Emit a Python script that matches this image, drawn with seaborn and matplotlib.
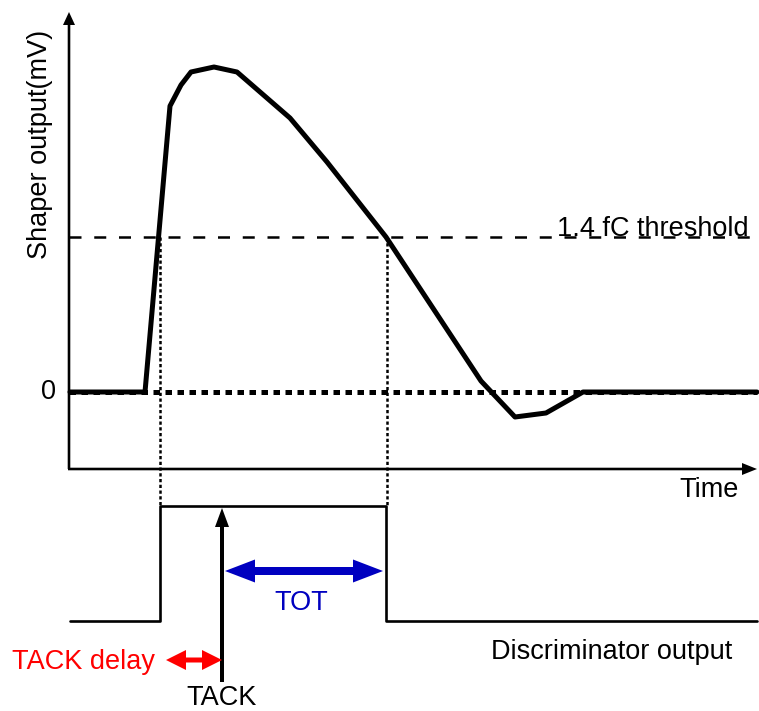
import matplotlib
matplotlib.use("Agg")
import matplotlib.pyplot as plt
import seaborn as sns

# Shaper pulse: time (arbitrary units) and output level (zero = baseline)
pulse_t = [70, 145, 170, 181, 191, 214, 237, 290, 327, 386, 481, 515, 546, 583, 757]
pulse_v = [0, 0, 286, 307, 320, 325, 320, 274, 230, 155, 11, -25, -21, 0, 0]

threshold_level = 155          # 1.4 fC threshold
t_cross_up = 160               # leading-edge threshold crossing
t_cross_down = 387             # trailing-edge threshold crossing
t_tack = 222                   # TACK arrival
t_start, t_end = 69, 757

# Discriminator output trace
disc_low, disc_high = -229, -114
disc_t = [70, t_cross_up, t_cross_up, t_cross_down - 1, t_cross_down - 1, t_end]
disc_v = [disc_low, disc_low, disc_high, disc_high, disc_low, disc_low]

axis_level = -77               # level of the time axis
axis_top = 380

sns.set_theme(style="white")
plt.rcParams["font.family"] = ["Liberation Sans", "DejaVu Sans"]
plt.rcParams["text.color"] = "black"

fig = plt.figure(figsize=(7.59, 7.11), dpi=100)
ax = fig.add_axes([0, 0, 1, 1])
ax.set_xlim(0, 759)
ax.set_ylim(392 - 711, 392)
ax.axis("off")

fs = 19.5

# axes with arrowheads
ax.arrow(t_start, axis_level, 0, axis_top - axis_level, width=2.6, head_width=12,
         head_length=13, length_includes_head=True, color="black", lw=0)
ax.arrow(t_start - 1, axis_level, t_end - t_start + 1, 0, width=2.6, head_width=12,
         head_length=15, length_includes_head=True, color="black", lw=0)

# threshold and zero reference lines
ax.plot([t_start, t_end], [threshold_level, threshold_level], color="black",
        lw=1.8, linestyle=(0, (4.8, 5.1)))
ax.plot([t_start, t_end], [0, 0], color="black", lw=3.6, linestyle=(0, (1.3, 1.1)))

# threshold crossings projected down onto the discriminator output
for t in (t_cross_up, t_cross_down):
    ax.plot([t, t], [threshold_level, disc_high], color="black", lw=1.8,
            linestyle=(0, (1.3, 1.0)))

# shaper pulse
sns.lineplot(x=pulse_t, y=pulse_v, sort=False, estimator=None, color="black",
             lw=3.6, ax=ax)

# discriminator output
sns.lineplot(x=disc_t, y=disc_v, sort=False, estimator=None, color="black",
             lw=1.9, ax=ax)

# TACK signal
ax.arrow(t_tack, -290, 0, -116 + 290, width=4, head_width=14, head_length=19,
         length_includes_head=True, color="black", lw=0)

# TOT: from TACK to the trailing edge
tot_level, tot_left, tot_right = -179, 225, 383
tot_mid = (tot_left + tot_right) / 2
for end in (tot_left, tot_right):
    ax.arrow(tot_mid, tot_level, end - tot_mid, 0, width=8, head_width=23,
             head_length=30, length_includes_head=True, color="#0000c0", lw=0)

# TACK delay: from leading edge to TACK
dly_level, dly_left, dly_right = -268, 166, 222
dly_mid = (dly_left + dly_right) / 2
for end in (dly_left, dly_right):
    ax.arrow(dly_mid, dly_level, end - dly_mid, 0, width=5, head_width=20,
             head_length=20, length_includes_head=True, color="#ff0000", lw=0)

# labels
ax.text(40, 248, "Shaper output(mV)", rotation=90, ha="center", va="center",
        fontsize=fs, color="black")
ax.text(48.5, 0, "0", ha="center", va="center", fontsize=fs, color="black")
ax.text(557, threshold_level + 1, "1.4 fC threshold", ha="left", va="baseline",
        fontsize=fs, color="black")
ax.text(709, -98, "Time", ha="center", va="center", fontsize=fs, color="black")
ax.text(612, -260, "Discriminator output", ha="center", va="center", fontsize=fs,
        color="black")
ax.text(301, -211, "TOT", ha="center", va="center", fontsize=fs, color="#0000c0")
ax.text(83, -270, "TACK delay", ha="center", va="center", fontsize=fs, color="#ff0000")
ax.text(222, -306, "TACK", ha="center", va="center", fontsize=fs, color="black")

fig.savefig("out.png", dpi=100, facecolor="white")
